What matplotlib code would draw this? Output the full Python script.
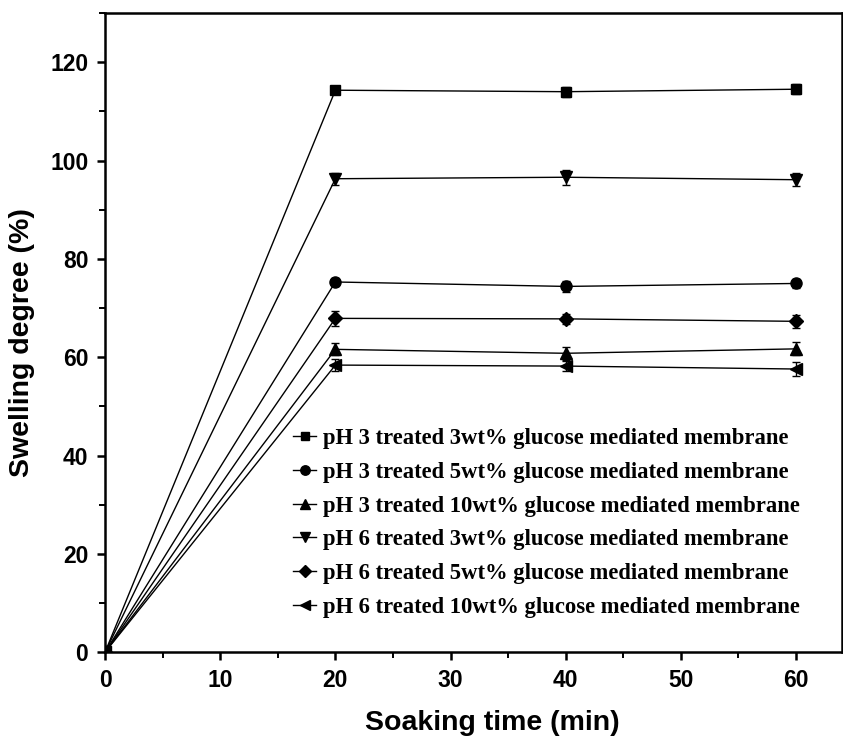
import matplotlib
matplotlib.use("Agg")
import matplotlib.pyplot as plt
from matplotlib.ticker import MultipleLocator

time = [0, 20, 40, 60]
labels = [
    "pH 3 treated 3wt% glucose mediated membrane",
    "pH 3 treated 5wt% glucose mediated membrane",
    "pH 3 treated 10wt% glucose mediated membrane",
    "pH 6 treated 3wt% glucose mediated membrane",
    "pH 6 treated 5wt% glucose mediated membrane",
    "pH 6 treated 10wt% glucose mediated membrane",
]
ph3_3 = [0, 114.3, 114.0, 114.5]
ph3_5 = [0, 75.3, 74.4, 75.0]
ph3_10 = [0, 61.6, 60.8, 61.7]
ph6_3 = [0, 96.3, 96.6, 96.1]
ph6_5 = [0, 67.9, 67.8, 67.3]
ph6_10 = [0, 58.4, 58.2, 57.6]
err_ph3_3 = [0, 0.8, 1.0, 1.0]
err_ph3_5 = [0, 0.8, 1.2, 1.0]
err_ph3_10 = [0, 1.2, 1.3, 1.3]
err_ph6_3 = [0, 1.2, 1.5, 1.3]
err_ph6_5 = [0, 1.5, 1.0, 1.3]
err_ph6_10 = [0, 1.2, 1.0, 1.5]

series = [ph3_3, ph3_5, ph3_10, ph6_3, ph6_5, ph6_10]
errs = [err_ph3_3, err_ph3_5, err_ph3_10, err_ph6_3, err_ph6_5, err_ph6_10]
markers = ["s", "o", "^", "v", "D", "<"]
msizes = [7, 8, 8, 8, 7, 8]

fig = plt.figure(figsize=(8.43, 7.48), dpi=100)
ax = fig.add_axes([0.1246, 0.128, 0.8744, 0.8546])

for y, e, m, ms, lab in zip(series, errs, markers, msizes, labels):
    ax.errorbar(time, y, yerr=e, color="black", marker=m, markersize=ms,
                linewidth=1.0, elinewidth=1.0, capsize=3, capthick=1.0, label=lab)

ax.set_xlim(0, 64)
ax.set_ylim(0, 130)
ax.xaxis.set_major_locator(MultipleLocator(10))
ax.xaxis.set_minor_locator(MultipleLocator(5))
ax.yaxis.set_major_locator(MultipleLocator(20))
ax.yaxis.set_minor_locator(MultipleLocator(10))
ax.tick_params(which="major", direction="out", length=6, width=1.8, labelsize=16.5, pad=6)
ax.tick_params(which="minor", direction="out", length=4, width=1.4)
for s in ax.spines.values():
    s.set_linewidth(1.8)
for lbl in ax.get_xticklabels() + ax.get_yticklabels():
    lbl.set_fontweight("bold")
    lbl.set_family("Liberation Sans")

ax.set_xlabel("Soaking time (min)", fontsize=20.5, fontweight="bold",
              family="Liberation Sans")
ax.xaxis.set_label_coords(0.525, -0.09)
ax.set_ylabel("Swelling degree (%)", fontsize=20.5, fontweight="bold",
              family="Liberation Sans")
ax.yaxis.set_label_coords(-0.095, 0.485)

handles, labs = ax.get_legend_handles_labels()
handles = [h[0] for h in handles]
leg = ax.legend(handles, labs, loc="lower left", bbox_to_anchor=(0.243, 0.04),
                frameon=False, handlelength=1.0, handletextpad=0.3,
                labelspacing=0.56, borderaxespad=0, markerscale=0.85,
                prop={"family": "Liberation Serif", "weight": "bold", "size": 16.3})

fig.savefig("out.png", dpi=100)
